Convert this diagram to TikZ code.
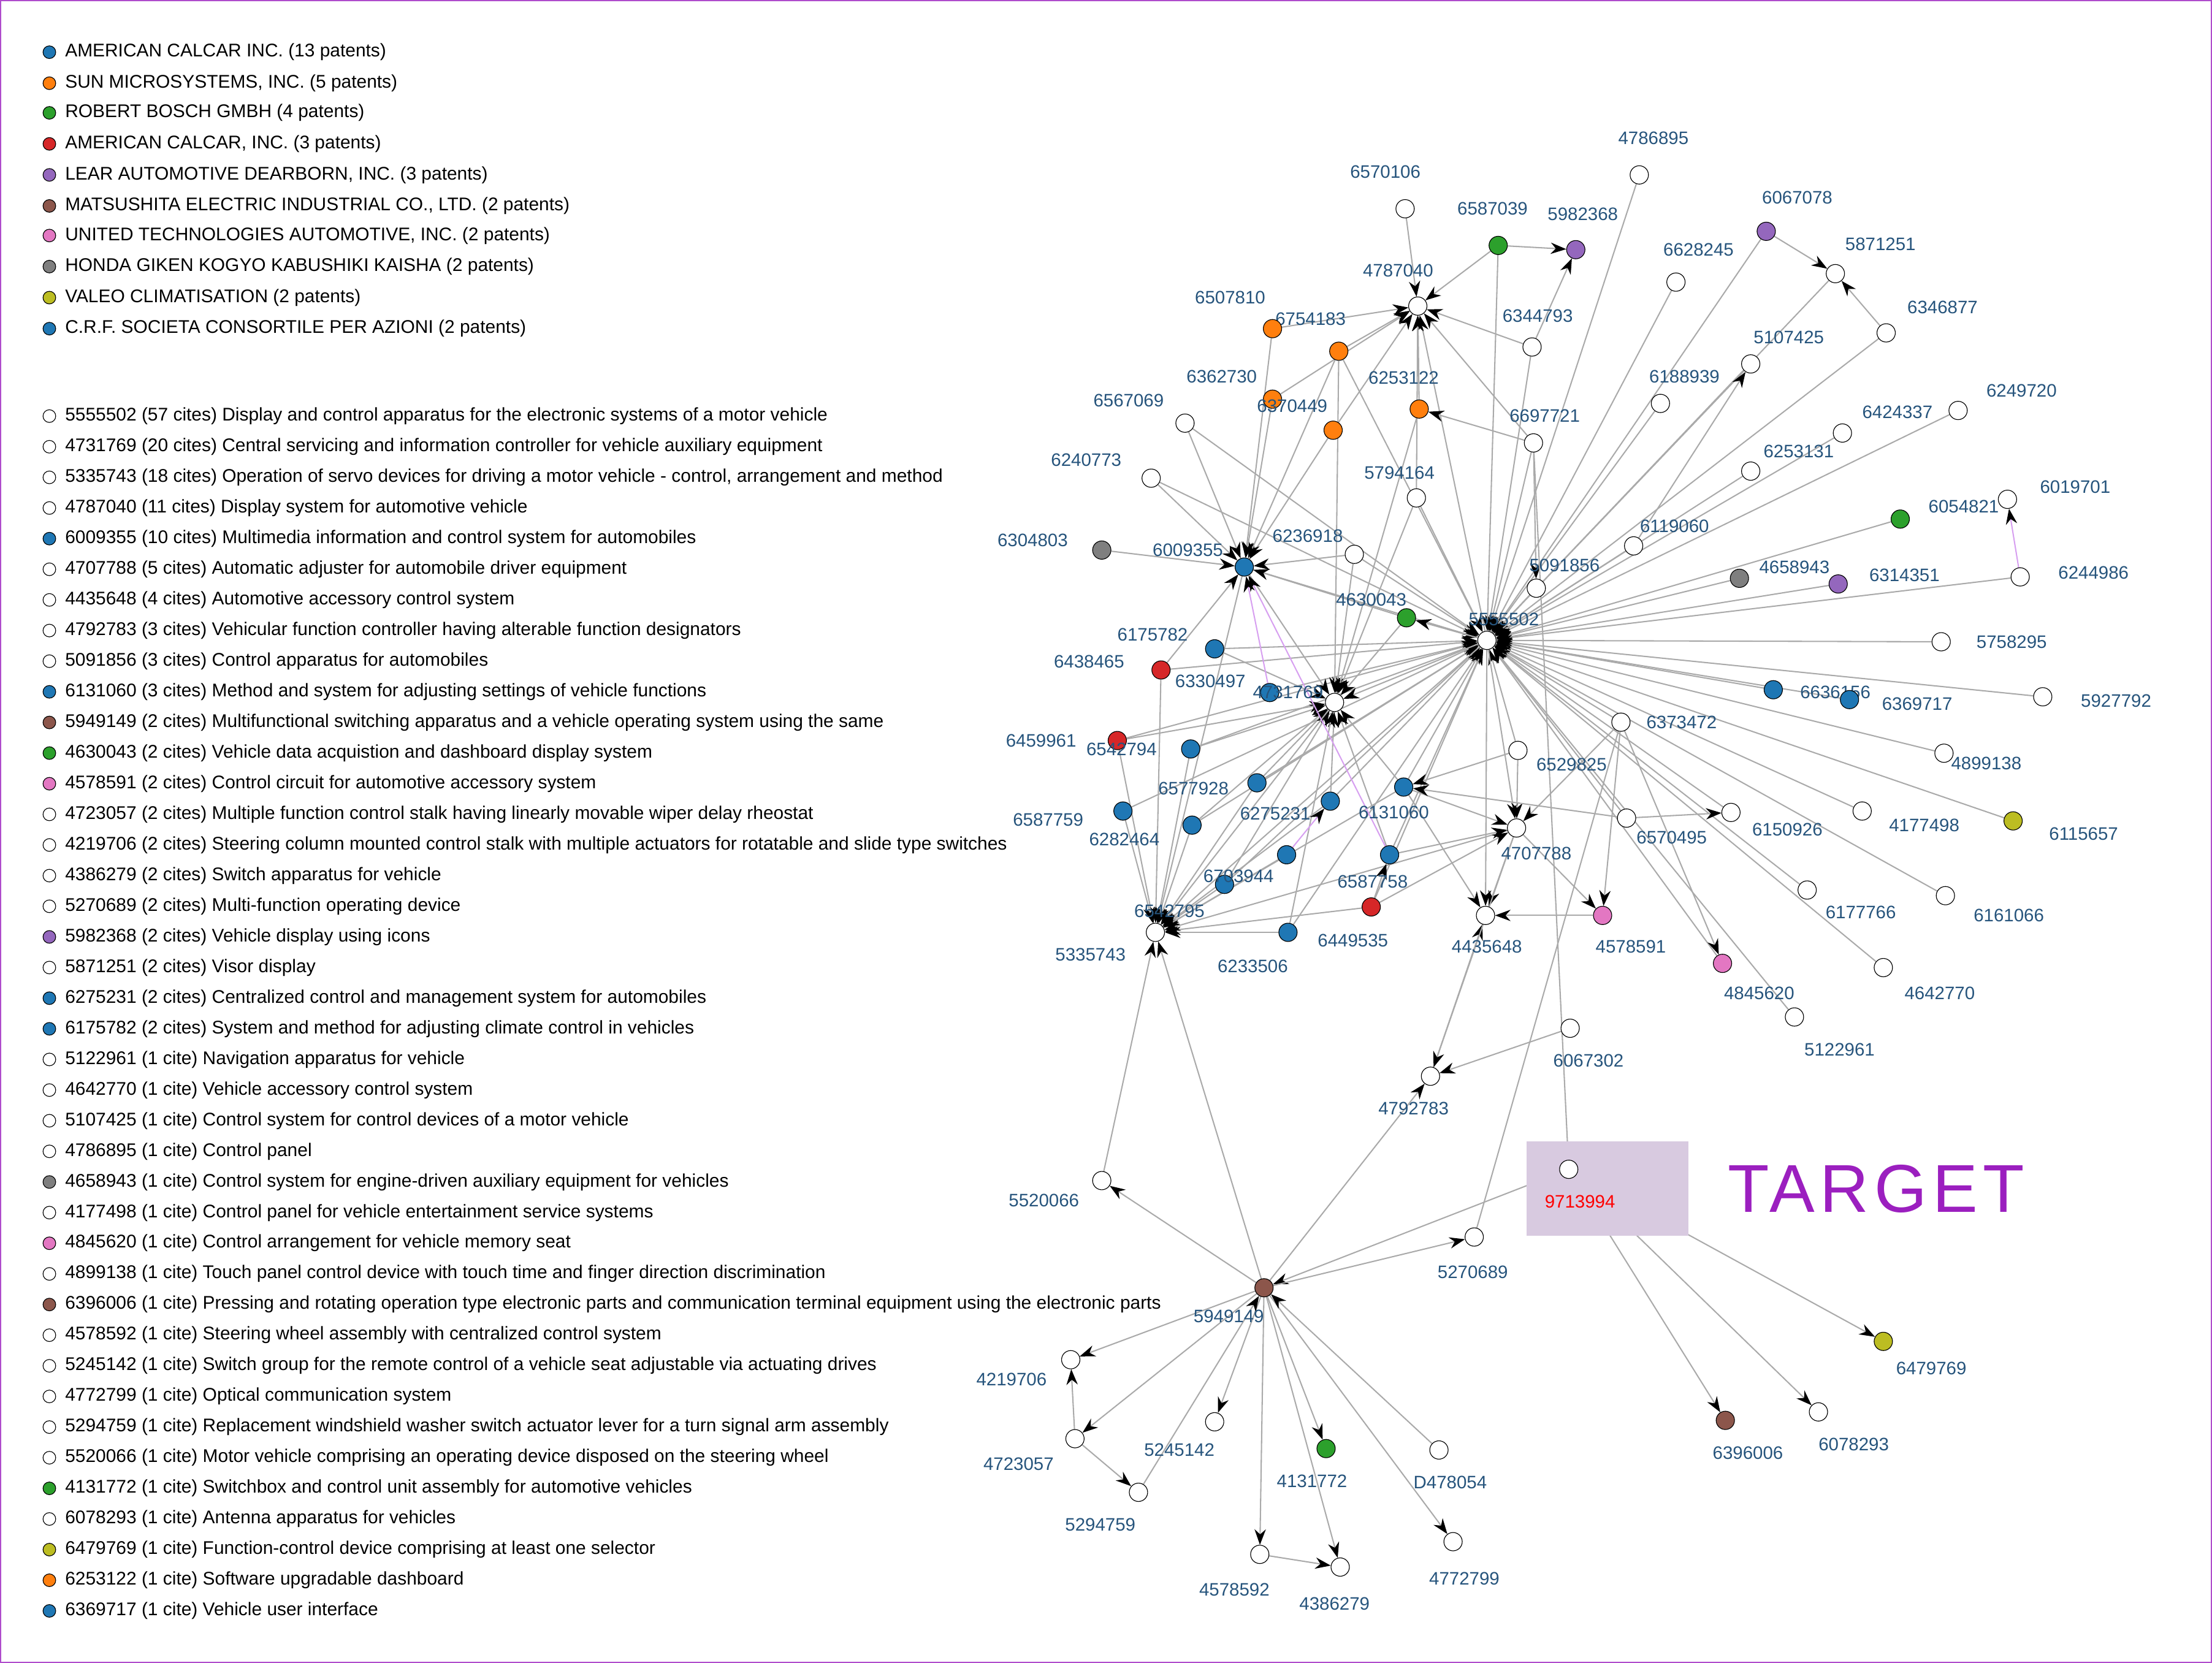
\documentclass[tikz,border=0pt]{standalone}
\usepackage{fontspec}
\setmainfont{Liberation Sans}
\usetikzlibrary{arrows.meta,backgrounds}
\definecolor{cb}{HTML}{1F77B4}\definecolor{co}{HTML}{FF7F0E}\definecolor{cg}{HTML}{2CA02C}
\definecolor{cr}{HTML}{D62728}\definecolor{cp}{HTML}{9467BD}\definecolor{cbr}{HTML}{8C564B}
\definecolor{cpk}{HTML}{E377C2}\definecolor{cgy}{HTML}{7F7F7F}\definecolor{col}{HTML}{BCBD22}
\definecolor{labc}{RGB}{38,84,124}\definecolor{tgt}{HTML}{9B1FBF}\definecolor{tbox}{RGB}{216,202,224}
\newcommand\PN[6]{\node[nd,fill=#4] (p#1) at (#2,#3) {}; \node[lab] (L#1) at (#5,#6) {#1};}
\newcommand\LG[4]{\node[nd,fill=#3,minimum size=9pt] (g#4) at (35,#1) {}; \node[leg] (t#4) at (46,#1) {#2};}
\begin{document}
\begin{tikzpicture}[x=1pt,y=-1pt,
 nd/.style={circle,draw=black,line width=0.5pt,minimum size=13pt,inner sep=0pt},
 lab/.style={text=labc,font=\fontsize{12.8}{14}\selectfont,inner sep=0pt},
 leg/.style={anchor=west,font=\fontsize{13}{15}\selectfont,inner sep=0pt},
 ed/.style={draw={rgb,255:red,170;green,170;blue,170},line width=0.9pt,-{Stealth[length=11pt,width=8pt,black]}},
 pl/.style={draw={rgb,255:red,170;green,170;blue,170},line width=0.9pt},
 pk/.style={draw={rgb,255:red,215;green,160;blue,240},line width=0.9pt,-{Stealth[length=11pt,width=8pt,black]}}]
\useasboundingbox (0,0) rectangle (1568,1179);
\draw[tgt!80,line width=1pt] (0.5,0.5) rectangle (1567.5,1178.5);
\fill[tbox] (1082,809) rectangle (1197,876);
\node[text=tgt,font=\fontsize{48}{54}\selectfont\addfontfeature{LetterSpace=8}] (TG) at (1330,843) {TARGET};
% legend
\foreach \y/\t/\c [count=\i] in {
37/{AMERICAN CALCAR INC. (13 patents)}/cb,
59/{SUN MICROSYSTEMS, INC. (5 patents)}/co,
80/{ROBERT BOSCH GMBH (4 patents)}/cg,
102/{AMERICAN CALCAR, INC. (3 patents)}/cr,
124/{LEAR AUTOMOTIVE DEARBORN, INC. (3 patents)}/cp,
146/{MATSUSHITA ELECTRIC INDUSTRIAL CO., LTD. (2 patents)}/cbr,
167/{UNITED TECHNOLOGIES AUTOMOTIVE, INC. (2 patents)}/cpk,
189/{HONDA GIKEN KOGYO KABUSHIKI KAISHA (2 patents)}/cgy,
211/{VALEO CLIMATISATION (2 patents)}/col,
233/{C.R.F. SOCIETA CONSORTILE PER AZIONI (2 patents)}/cb}
 {\LG{\y}{\t}{\c}{a\i}}
\foreach \t/\c [count=\i from 0] in {
{5555502 (57 cites) Display and control apparatus for the electronic systems of a motor vehicle}/white,
{4731769 (20 cites) Central servicing and information controller for vehicle auxiliary equipment}/white,
{5335743 (18 cites) Operation of servo devices for driving a motor vehicle - control, arrangement and method}/white,
{4787040 (11 cites) Display system for automotive vehicle}/white,
{6009355 (10 cites) Multimedia information and control system for automobiles}/cb,
{4707788 (5 cites) Automatic adjuster for automobile driver equipment}/white,
{4435648 (4 cites) Automotive accessory control system}/white,
{4792783 (3 cites) Vehicular function controller having alterable function designators}/white,
{5091856 (3 cites) Control apparatus for automobiles}/white,
{6131060 (3 cites) Method and system for adjusting settings of vehicle functions}/cb,
{5949149 (2 cites) Multifunctional switching apparatus and a vehicle operating system using the same}/cbr,
{4630043 (2 cites) Vehicle data acquistion and dashboard display system}/cg,
{4578591 (2 cites) Control circuit for automotive accessory system}/cpk,
{4723057 (2 cites) Multiple function control stalk having linearly movable wiper delay rheostat}/white,
{4219706 (2 cites) Steering column mounted control stalk with multiple actuators for rotatable and slide type switches}/white,
{4386279 (2 cites) Switch apparatus for vehicle}/white,
{5270689 (2 cites) Multi-function operating device}/white,
{5982368 (2 cites) Vehicle display using icons}/cp,
{5871251 (2 cites) Visor display}/white,
{6275231 (2 cites) Centralized control and management system for automobiles}/cb,
{6175782 (2 cites) System and method for adjusting climate control in vehicles}/cb,
{5122961 (1 cite) Navigation apparatus for vehicle}/white,
{4642770 (1 cite) Vehicle accessory control system}/white,
{5107425 (1 cite) Control system for control devices of a motor vehicle}/white,
{4786895 (1 cite) Control panel}/white,
{4658943 (1 cite) Control system for engine-driven auxiliary equipment for vehicles}/cgy,
{4177498 (1 cite) Control panel for vehicle entertainment service systems}/white,
{4845620 (1 cite) Control arrangement for vehicle memory seat}/cpk,
{4899138 (1 cite) Touch panel control device with touch time and finger direction discrimination}/white,
{6396006 (1 cite) Pressing and rotating operation type electronic parts and communication terminal equipment using the electronic parts}/cbr,
{4578592 (1 cite) Steering wheel assembly with centralized control system}/white,
{5245142 (1 cite) Switch group for the remote control of a vehicle seat adjustable via actuating drives}/white,
{4772799 (1 cite) Optical communication system}/white,
{5294759 (1 cite) Replacement windshield washer switch actuator lever for a turn signal arm assembly}/white,
{5520066 (1 cite) Motor vehicle comprising an operating device disposed on the steering wheel}/white,
{4131772 (1 cite) Switchbox and control unit assembly for automotive vehicles}/cg,
{6078293 (1 cite) Antenna apparatus for vehicles}/white,
{6479769 (1 cite) Function-control device comprising at least one selector}/col,
{6253122 (1 cite) Software upgradable dashboard}/co,
{6369717 (1 cite) Vehicle user interface}/cb}
 {\pgfmathsetmacro\yy{295+21.72*\i}\LG{\yy}{\t}{\c}{b\i}}
% nodes
\PN{5555502}{1054}{454}{white}{1066}{439}
\PN{4787040}{1005}{217}{white}{991}{192}
\PN{6570106}{996}{148}{white}{982}{122}
\PN{6587039}{1062}{174}{cg}{1058}{148}
\PN{5982368}{1117}{177}{cp}{1122}{152}
\PN{4786895}{1162}{124}{white}{1172}{98}
\PN{6628245}{1188}{200}{white}{1204}{177}
\PN{6067078}{1252}{164}{cp}{1274}{140}
\PN{5871251}{1301}{194}{white}{1333}{173}
\PN{6346877}{1337}{236}{white}{1377}{218}
\PN{6344793}{1086}{246}{white}{1090}{224}
\PN{5107425}{1241}{258}{white}{1268}{239}
\PN{6188939}{1177}{286}{white}{1194}{267}
\PN{6424337}{1306}{307}{white}{1345}{292}
\PN{6249720}{1388}{291}{white}{1433}{277}
\PN{6253131}{1241}{334}{white}{1275}{320}
\PN{6697721}{1087}{314}{white}{1095}{295}
\PN{6253122}{1006}{290}{co}{995}{268}
\PN{6754183}{949}{249}{co}{929}{226}
\PN{6507810}{902}{233}{co}{872}{211}
\PN{6362730}{902}{283}{co}{866}{267}
\PN{6370449}{945}{305}{co}{916}{288}
\PN{6567069}{840}{300}{white}{800}{284}
\PN{6240773}{816}{339}{white}{770}{326}
\PN{5794164}{1004}{353}{white}{992}{335}
\PN{6236918}{960}{393}{white}{927}{380}
\PN{6304803}{781}{390}{cgy}{732}{383}
\PN{6009355}{882}{402}{cb}{842}{390}
\PN{4630043}{997}{438}{cg}{972}{425}
\PN{5091856}{1089}{417}{white}{1109}{401}
\PN{6119060}{1158}{387}{white}{1187}{373}
\PN{6054821}{1347}{368}{cg}{1392}{359}
\PN{6019701}{1423}{354}{white}{1471}{345}
\PN{4658943}{1233}{410}{cgy}{1272}{402}
\PN{6314351}{1303}{414}{cp}{1350}{408}
\PN{6244986}{1432}{409}{white}{1484}{406}
\PN{5758295}{1376}{455}{white}{1426}{455}
\PN{6175782}{861}{460}{cb}{817}{450}
\PN{6438465}{823}{475}{cr}{772}{469}
\PN{6330497}{900}{491}{cb}{858}{483}
\PN{4731769}{946}{498}{white}{913}{491}
\PN{6636156}{1257}{489}{cb}{1301}{491}
\PN{6369717}{1311}{496}{cb}{1359}{499}
\PN{5927792}{1448}{494}{white}{1500}{497}
\PN{6373472}{1149}{512}{white}{1192}{512}
\PN{6459961}{792}{525}{cr}{738}{525}
\PN{6542794}{844}{531}{cb}{795}{531}
\PN{4899138}{1378}{534}{white}{1408}{541}
\PN{6529825}{1076}{532}{white}{1114}{542}
\PN{6577928}{891}{555}{cb}{846}{559}
\PN{6131060}{995}{558}{cb}{988}{576}
\PN{6275231}{943}{568}{cb}{904}{577}
\PN{6587759}{796}{575}{cb}{743}{581}
\PN{6282464}{845}{585}{cb}{797}{595}
\PN{4707788}{1075}{587}{white}{1089}{605}
\PN{6570495}{1153}{580}{white}{1185}{594}
\PN{6150926}{1227}{576}{white}{1267}{588}
\PN{4177498}{1320}{575}{white}{1364}{585}
\PN{6115657}{1427}{582}{col}{1477}{591}
\PN{6703944}{868}{627}{cb}{878}{621}
\PN{6587758}{985}{606}{cb}{973}{625}
\node[nd,fill=cb] (pX1) at (912,606) {};
\PN{6177766}{1281}{631}{white}{1319}{647}
\PN{6161066}{1379}{635}{white}{1424}{649}
\PN{6449535}{972}{643}{cr}{959}{667}
\PN{4435648}{1053}{649}{white}{1054}{671}
\PN{4578591}{1136}{649}{cpk}{1156}{671}
\PN{5335743}{819}{661}{white}{773}{677}
\node[lab] (L6542795) at (829,646) {6542795};
\PN{6233506}{913}{661}{cb}{888}{685}
\PN{4845620}{1221}{683}{cpk}{1247}{704}
\PN{4642770}{1335}{686}{white}{1375}{704}
\PN{5122961}{1272}{721}{white}{1304}{744}
\PN{6067302}{1113}{729}{white}{1126}{752}
\PN{4792783}{1014}{763}{white}{1002}{786}
\PN{5520066}{781}{837}{white}{740}{851}
\node[nd,fill=white] (p9713994) at (1112,829) {};
\node[lab,text=red] (L9713994) at (1120,852) {9713994};
\PN{5270689}{1045}{877}{white}{1044}{902}
\PN{5949149}{896}{913}{cbr}{871}{933}
\PN{6479769}{1335}{951}{col}{1369}{970}
\PN{4219706}{759}{964}{white}{717}{978}
\PN{5245142}{861}{1008}{white}{836}{1028}
\PN{6396006}{1223}{1007}{cbr}{1239}{1030}
\PN{6078293}{1289}{1001}{white}{1314}{1024}
\PN{4723057}{762}{1020}{white}{722}{1038}
\PN{4131772}{940}{1027}{cg}{930}{1050}
\PN{D478054}{1020}{1028}{white}{1028}{1051}
\PN{5294759}{807}{1058}{white}{780}{1081}
\PN{4772799}{1030}{1093}{white}{1038}{1119}
\PN{4578592}{893}{1102}{white}{875}{1127}
\PN{4386279}{950}{1111}{white}{946}{1137}
% edges
\begin{scope}[on background layer]
\foreach \a in {4786895,6628245,5107425,6188939,6424337,6249720,6253131,6119060,6054821,4658943,6314351,6244986,5758295,5927792,6636156,6369717,4899138,6373472,6150926,4177498,6115657,6177766,6161066,4642770,5122961,4845620,6570495,6529825,6697721,6344793,5091856,5794164,6567069,6240773,6236918,6587039,5871251,6346877,6067078,6175782,6330497,6577928,6275231,6131060,6703944,6587758,6233506,6449535,6282464,6542794,6009355,6438465,6459961,6587759,6754183}
 \draw[ed] (p\a) -- (p5555502);
\foreach \a/\b in {5555502/4787040,5555502/4630043,5555502/4731769,5555502/5335743,5555502/4707788,5555502/4435648,
6570106/4787040,6587039/4787040,6344793/4787040,6754183/4787040,6507810/4787040,6253122/4787040,6697721/4787040,5794164/4787040,6370449/4787040,6362730/4787040,
6304803/6009355,6567069/6009355,6240773/6009355,6507810/6009355,6362730/6009355,6370449/6009355,6754183/6009355,6236918/6009355,6438465/6009355,4630043/6009355,
6175782/4731769,6009355/4731769,5794164/4731769,4630043/4731769,6577928/4731769,6542794/4731769,6282464/4731769,6275231/4731769,6131060/4731769,6703944/4731769,6587758/4731769,6233506/4731769,6236918/4731769,6253122/4731769,6754183/4731769,6459961/4731769,
6459961/5335743,6438465/5335743,6587759/5335743,6542794/5335743,6282464/5335743,6577928/5335743,6703944/5335743,6233506/5335743,6449535/5335743,4731769/5335743,6009355/5335743,6131060/5335743,5520066/5335743,5949149/5335743,4707788/5335743,6275231/5335743,X1/5335743,
6529825/4707788,6373472/4707788,6131060/4707788,6587758/4707788,6449535/4707788,
4578591/4435648,4707788/4435648,6131060/4435648,4792783/4435648,
6529825/6131060,6570495/6131060,6570495/6150926,4707788/4578591,6373472/4845620,6373472/4578591,
6587039/5982368,6344793/5982368,6067078/5871251,6346877/5871251,6119060/5107425,6697721/6253122,
6067302/4792783,4707788/4792783,5949149/4792783,5949149/5520066,9713994/5949149,5949149/5270689,
9713994/6479769,9713994/6396006,9713994/6078293,
5949149/4219706,5949149/4723057,5949149/5245142,5949149/4131772,5949149/4578592,5949149/4386279,5949149/4772799,D478054/5949149,5294759/5949149,4723057/4219706,4723057/5294759,4578592/4386279,
6697721/5091856,6449535/6587758}
 \draw[ed] (p\a) -- (p\b);
\draw[pl] (p5270689) -- (p6373472);
\draw[pl] (p9713994) -- (p6697721);
\draw[pk] (p6244986) -- (p6019701);
\draw[pk] (p6330497) -- (p6009355);
\draw[pk] (p6587758) -- (p6009355);
\draw[pk] (pX1) -- (p6275231);
\end{scope}
\end{tikzpicture}
\end{document}
